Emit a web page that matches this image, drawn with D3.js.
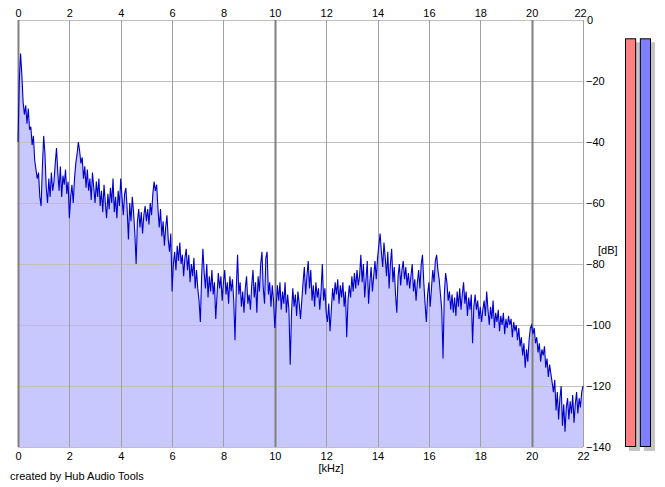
<!DOCTYPE html>
<html><head><meta charset="utf-8">
<script src="https://cdn.jsdelivr.net/npm/d3@7"></script>
<style>
body{margin:0;background:#fff;}
text{font-family:"Liberation Sans",Arial,sans-serif;font-size:11px;fill:#000;}
</style></head>
<body><svg id="c" width="665" height="487"></svg>
<script>
// frequency step 0.05 kHz, dB values
const freqStep = 0.05;
const dbValues = [
 -40,-20,-11,-18,-27,-31,-28,-34,-29,-36,-35,-41,-38,-46,-49,-52,-50,-58,-61,-48,
 -38,-44,-55,-60,-52,-58,-50,-56,-53,-47,-42,-50,-56,-48,-58,-51,-54,-49,-57,-53,
 -65,-58,-54,-60,-52,-47,-44,-40,-43,-47,-45,-52,-48,-55,-49,-56,-52,-59,-50,-55,
 -60,-53,-58,-52,-61,-56,-63,-54,-60,-65,-57,-62,-55,-60,-52,-63,-58,-65,-56,-61,
 -52,-58,-64,-57,-55,-62,-72,-60,-66,-58,-63,-70,-80,-66,-62,-68,-63,-70,-64,-61,
 -66,-62,-67,-60,-64,-57,-53,-56,-54,-62,-68,-62,-71,-66,-74,-68,-64,-72,-76,-70,
 -89,-80,-76,-82,-74,-79,-73,-80,-77,-84,-78,-75,-82,-77,-86,-80,-84,-78,-88,-82,
 -88,-92,-99,-84,-75,-83,-88,-80,-91,-84,-89,-82,-90,-86,-98,-90,-83,-88,-84,-92,
 -86,-82,-90,-86,-93,-84,-89,-85,-92,-105,-88,-77,-90,-86,-94,-89,-96,-88,-84,-93,
 -90,-95,-87,-82,-91,-86,-96,-84,-89,-80,-76,-88,-93,-78,-76,-90,-86,-94,-87,-92,
 -101,-94,-87,-92,-86,-95,-89,-93,-86,-96,-90,-95,-113,-96,-88,-94,-90,-97,-89,-93,
 -98,-92,-86,-81,-90,-84,-79,-88,-82,-92,-87,-94,-86,-91,-88,-95,-89,-80,-92,-88,
 -96,-99,-93,-102,-95,-88,-92,-86,-90,-85,-93,-87,-91,-86,-94,-89,-104,-92,-87,-91,
 -84,-89,-83,-88,-82,-87,-84,-77,-86,-80,-91,-85,-79,-93,-86,-81,-89,-84,-79,-85,
 -78,-74,-70,-76,-81,-73,-78,-84,-76,-88,-80,-75,-86,-81,-90,-96,-84,-80,-87,-82,
 -79,-85,-81,-87,-83,-88,-84,-80,-89,-85,-92,-86,-82,-88,-80,-77,-86,-93,-99,-90,
 -86,-94,-88,-82,-86,-79,-77,-82,-85,-90,-95,-111,-90,-83,-86,-92,-89,-95,-90,-96,
 -91,-97,-89,-94,-88,-95,-90,-86,-93,-89,-97,-91,-95,-90,-106,-94,-90,-95,-92,-98,
 -94,-99,-95,-92,-97,-89,-95,-100,-94,-98,-92,-101,-96,-99,-95,-102,-97,-100,-96,-103,
 -98,-101,-97,-100,-98,-104,-99,-102,-100,-105,-101,-107,-104,-110,-106,-114,-108,-112,-105,-101,
 -100,-103,-101,-106,-104,-109,-106,-112,-108,-110,-107,-114,-111,-117,-113,-116,-119,-122,-118,-128,
 -122,-131,-124,-120,-133,-126,-135,-127,-124,-131,-125,-129,-123,-132,-126,-122,-129,-124,-127,-122,
 -120
];
const xTicks = [0,2,4,6,8,10,12,14,16,18,20,22];
const majorX = [0,10,20];
const yTicks = [0,-20,-40,-60,-80,-100,-120,-140];
const meterLevels = [-6,-6]; // dB, left (red) and right (blue) channel

const data = dbValues.map((v,i)=>({f:+(i*freqStep).toFixed(3), db:v}));
const svg = d3.select("#c");
const L=18, R=583, T=20, B=447;
const x = d3.scaleLinear().domain([0,22]).range([L,R]);
const y = d3.scaleLinear().domain([0,-140]).range([T,B]);

// fill area
svg.append("path").datum(data)
  .attr("fill","#c8c8ff")
  .attr("d", d3.area().x(d=>x(d.f)).y0(B).y1(d=>y(d.db)));

// horizontal grid
svg.append("g").selectAll("line").data(yTicks).join("line")
  .attr("x1",L).attr("x2",R).attr("y1",d=>y(d)+0.5).attr("y2",d=>y(d)+0.5)
  .attr("stroke","#c0c0c0").attr("stroke-width",1);
// vertical grid
svg.append("g").selectAll("line").data(xTicks).join("line")
  .attr("x1",d=>Math.round(x(d))+0.5).attr("x2",d=>Math.round(x(d))+0.5)
  .attr("y1",T).attr("y2",B)
  .attr("stroke",d=>majorX.includes(d)?"#808080":"#a0a0a0")
  .attr("stroke-width",d=>majorX.includes(d)?2:1);

// spectrum line
svg.append("path").datum(data)
  .attr("fill","none").attr("stroke","#0000cc").attr("stroke-width",1.1)
  .attr("d", d3.line().x(d=>x(d.f)).y(d=>y(d.db)));

// axes labels via d3 axes (no lines)
const fmt = d3.format("d");
const topAxis = d3.axisTop(x).tickValues(xTicks).tickSize(0).tickPadding(0).tickFormat(fmt);
const gTop = svg.append("g").attr("transform","translate(0,17)").call(topAxis);
const botAxis = d3.axisBottom(x).tickValues(xTicks).tickSize(0).tickPadding(0).tickFormat(fmt);
const gBot = svg.append("g").attr("transform","translate(0,452)").call(botAxis);
const rAxis = d3.axisRight(y).tickValues(yTicks).tickSize(0).tickPadding(3).tickFormat(fmt);
const gR = svg.append("g").attr("transform",`translate(${R},0)`).call(rAxis);
[gTop,gBot,gR].forEach(g=>{
  g.select(".domain").remove();
  g.selectAll("text").attr("font-size",11).attr("font-family","Liberation Sans, Arial, sans-serif").attr("fill","#000");
});
gTop.selectAll("text").attr("dy","0");
gTop.selectAll(".tick").filter(d=>d===22).select("text").attr("x",-3);
gR.selectAll(".tick").filter(d=>d===0).select("text").attr("x",4);

svg.append("text").attr("x",331).attr("y",472).attr("text-anchor","middle").text("[kHz]");
svg.append("text").attr("x",598).attr("y",254).text("[dB]");
svg.append("text").attr("x",10).attr("y",480).text("created by Hub Audio Tools");

// meters
const meterX = d3.scaleBand().domain([0,1]).range([625,651]).paddingInner(0.25);
const meterColors = ["#ff8080","#8080ff"];
meterLevels.forEach((lv,i)=>{
  const bx = meterX(i), bw = meterX.bandwidth();
  svg.append("rect").attr("x",bx+4).attr("y",y(lv)+4).attr("width",bw).attr("height",B-y(lv))
    .attr("fill","#c4c4c4");
  svg.append("rect").attr("x",bx+0.5).attr("y",y(lv)+0.5).attr("width",bw-1).attr("height",B-y(lv)-1)
    .attr("fill",meterColors[i]).attr("stroke","#000").attr("stroke-width",1);
});
</script></body></html>
